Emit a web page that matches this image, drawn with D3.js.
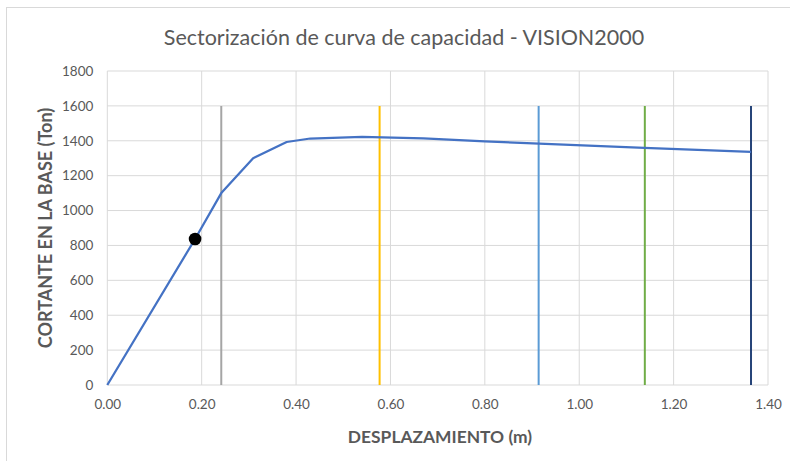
<!DOCTYPE html>
<html>
<head>
<meta charset="utf-8">
<script src="https://cdn.jsdelivr.net/npm/d3@7/dist/d3.min.js"></script>
<style>
  html, body { margin: 0; padding: 0; background: #fff; }
  svg { display: block; }
  text { font-family: Lato, "Open Sans", sans-serif; }
</style>
</head>
<body>
<svg id="chart" width="790" height="461"></svg>
<script>
// Capacity curve (displacement in m, base shear in Ton)
const displacement = [0, 0.186, 0.2415, 0.309, 0.380, 0.430, 0.540, 0.670, 0.800, 0.915, 1.138, 1.364];
const baseShear    = [0, 837, 1100, 1300, 1393, 1413, 1422, 1414, 1397, 1383, 1360, 1337];

// Performance point
const perfPoint = [0.186, 837];

// VISION2000 sector limits (displacements)
const sectorLimits = [0.2415, 0.577, 0.914, 1.139, 1.364];
const sectorColors = ["#A5A5A5", "#FFC000", "#5B9BD5", "#70AD47", "#264478"];
const sectorTop = 1600;

const xTicks = [0, 0.2, 0.4, 0.6, 0.8, 1.0, 1.2, 1.4];
const yTicks = [0, 200, 400, 600, 800, 1000, 1200, 1400, 1600, 1800];

const svg = d3.select("#chart");
const W = 790, H = 461;
const plot = { left: 107.3, right: 768, top: 71, bottom: 385 };

// chart frame
svg.append("rect")
  .attr("x", 6.5).attr("y", 7.5)
  .attr("width", W + 20).attr("height", H + 20)
  .attr("fill", "#fff").attr("stroke", "#d9d9d9").attr("stroke-width", 1);

const x = d3.scaleLinear().domain([0, 1.4]).range([plot.left, plot.right]);
const y = d3.scaleLinear().domain([0, 1800]).range([plot.bottom, plot.top]);

// gridlines
const grid = svg.append("g");
grid.selectAll("line.v").data(xTicks).join("line")
  .attr("x1", d => x(d)).attr("x2", d => x(d))
  .attr("y1", plot.top).attr("y2", plot.bottom)
  .attr("stroke", "#d9d9d9").attr("stroke-width", 1);
grid.selectAll("line.h").data(yTicks).join("line")
  .attr("x1", plot.left).attr("x2", plot.right)
  .attr("y1", d => y(d)).attr("y2", d => y(d))
  .attr("stroke", "#d9d9d9").attr("stroke-width", 1);

// axes (labels only, no tick marks)
const xAxis = d3.axisBottom(x).tickValues(xTicks).tickFormat(d3.format(".2f")).tickSize(0).tickPadding(14);
const yAxis = d3.axisLeft(y).tickValues(yTicks).tickFormat(d3.format("d")).tickSize(0).tickPadding(14);

svg.append("g").attr("transform", `translate(0,${plot.bottom})`).call(xAxis)
  .call(g => g.select(".domain").remove())
  .selectAll("text").attr("fill", "#595959").style("font-size", "13.5px")
  .style("font-family", "Lato, 'Open Sans', sans-serif");
svg.append("g").attr("transform", `translate(${plot.left},0)`).call(yAxis)
  .call(g => g.select(".domain").remove())
  .selectAll("text").attr("fill", "#595959").style("font-size", "13.5px")
  .style("font-family", "Lato, 'Open Sans', sans-serif");

// sector limit lines
svg.append("g").selectAll("line").data(sectorLimits).join("line")
  .attr("x1", d => x(d)).attr("x2", d => x(d))
  .attr("y1", y(sectorTop)).attr("y2", y(0))
  .attr("stroke", (d, i) => sectorColors[i]).attr("stroke-width", 2);

// capacity curve
const pts = displacement.map((d, i) => [d, baseShear[i]]);
svg.append("path").datum(pts)
  .attr("d", d3.line().x(d => x(d[0])).y(d => y(d[1])))
  .attr("fill", "none").attr("stroke", "#4472C4").attr("stroke-width", 2.25)
  .attr("stroke-linejoin", "round");

// performance point
svg.append("circle")
  .attr("cx", x(perfPoint[0])).attr("cy", y(perfPoint[1]))
  .attr("r", 6.3).attr("fill", "#000");

// title
svg.append("text")
  .attr("x", 404).attr("y", 45)
  .attr("text-anchor", "middle").attr("fill", "#595959")
  .style("font-size", "21.5px")
  .text("Sectorización de curva de capacidad - VISION2000");

// axis titles
svg.append("text")
  .attr("x", 440).attr("y", 443)
  .attr("text-anchor", "middle").attr("fill", "#595959")
  .style("font-size", "17.4px").style("font-weight", "bold")
  .text("DESPLAZAMIENTO (m)");

svg.append("text")
  .attr("transform", `translate(52,${(plot.top + plot.bottom) / 2}) rotate(-90)`)
  .attr("text-anchor", "middle").attr("fill", "#595959")
  .style("font-size", "18px").style("font-weight", "bold")
  .text("CORTANTE EN LA BASE (Ton)");
</script>
</body>
</html>
